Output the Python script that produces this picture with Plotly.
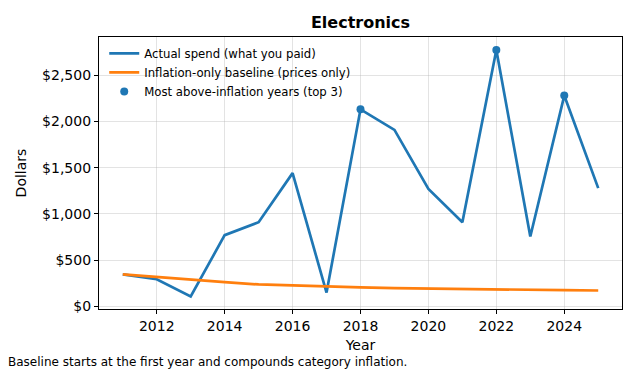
import plotly.graph_objects as go

years = list(range(2011, 2026))
actual = [348, 295, 108, 771, 911, 1441, 150, 2130, 1908, 1271, 911, 2772, 756, 2279, 1279]
baseline = [348, 318, 289, 263, 238, 226, 216, 207, 199, 193, 188, 184, 180, 176, 173]
top_years = [2018, 2022, 2024]
top_vals = [actual[years.index(y)] for y in top_years]

y_ticks = [0, 500, 1000, 1500, 2000, 2500]
x_ticks = [2012, 2014, 2016, 2018, 2020, 2022, 2024]

BLUE = "#1f77b4"
ORANGE = "#ff7f0e"
FONT = "DejaVu Sans"

fig = go.Figure()
fig.add_trace(go.Scatter(x=years, y=actual, mode="lines", name="Actual spend (what you paid)",
                         line=dict(color=BLUE, width=2.7)))
fig.add_trace(go.Scatter(x=years, y=baseline, mode="lines", name="Inflation-only baseline (prices only)",
                         line=dict(color=ORANGE, width=2.7)))
fig.add_trace(go.Scatter(x=top_years, y=top_vals, mode="markers", name="Most above-inflation years (top 3)",
                         marker=dict(color=BLUE, size=8)))

axis_common = dict(showline=True, linecolor="black", linewidth=1.2, mirror=True,
                   ticks="outside", ticklen=4, tickcolor="black", tickwidth=1,
                   showgrid=True, gridcolor="rgba(176,176,176,0.35)", gridwidth=1,
                   zeroline=False, automargin=False,
                   tickfont=dict(family=FONT, size=14, color="black"))

fig.update_layout(
    width=638, height=372,
    margin=dict(l=99, r=16, t=37, b=63),
    paper_bgcolor="white", plot_bgcolor="white",
    font=dict(family=FONT, color="black"),
    title=dict(text="<b>Electronics</b>", x=0.5, xanchor="center", xref="paper",
               y=0.94, yanchor="middle", font=dict(family=FONT, size=16, color="black")),
    showlegend=True,
    legend=dict(x=0.01, y=0.993, xanchor="left", yanchor="top", bgcolor="rgba(255,255,255,0)",
                font=dict(family=FONT, size=11.7, color="black"), tracegroupgap=0,
                itemwidth=30),
    xaxis=dict(range=[2010.3, 2025.7], tickvals=x_ticks,
               title=dict(text="Year", font=dict(family=FONT, size=14), standoff=7), **axis_common),
    yaxis=dict(range=[-27, 2912], tickvals=y_ticks, tickformat="$,.0f",
               title=dict(text="Dollars", font=dict(family=FONT, size=14), standoff=12), **axis_common),
)
fig.add_annotation(text="Baseline starts at the first year and compounds category inflation.",
                   xref="paper", yref="paper", x=-0.178, y=-0.196, xanchor="left", yanchor="middle",
                   showarrow=False, font=dict(family=FONT, size=12, color="black"))

fig.write_html("out.html", config={"displayModeBar": False},
               post_script="document.body.style.margin='0';")
